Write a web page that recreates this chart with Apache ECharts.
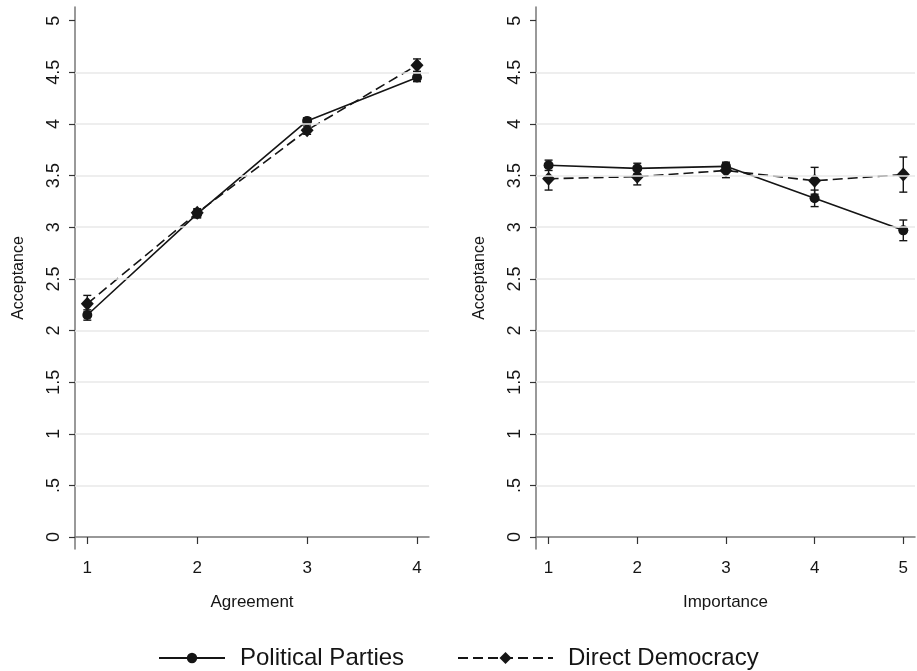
<!DOCTYPE html>
<html>
<head>
<meta charset="utf-8">
<script src="https://cdn.jsdelivr.net/npm/echarts@6/dist/echarts.min.js"></script>
<style>
html,body{margin:0;padding:0;background:#fff;}
#chart{width:917px;height:671px;}
</style>
</head>
<body>
<div id="chart"></div>
<script>
// ---- data ----
const agreeCats = [1, 2, 3, 4];
const agreePP = [2.15, 3.13, 4.03, 4.45];
const agreePPerr = [0.05, 0.04, 0.03, 0.04];
const agreeDD = [2.26, 3.14, 3.94, 4.57];
const agreeDDerr = [0.08, 0.04, 0.04, 0.06];

const impCats = [1, 2, 3, 4, 5];
const impPP = [3.60, 3.57, 3.59, 3.28, 2.97];
const impPPerr = [0.05, 0.05, 0.04, 0.08, 0.10];
const impDD = [3.47, 3.49, 3.55, 3.45, 3.51];
const impDDerr = [0.11, 0.08, 0.07, 0.13, 0.17];

const yTicks = [0, 0.5, 1, 1.5, 2, 2.5, 3, 3.5, 4, 4.5, 5];
const gridVals = [0.5, 1, 1.5, 2, 2.5, 3, 3.5, 4, 4.5];
const seriesNames = ['Political Parties', 'Direct Democracy'];
const xNames = ['Agreement', 'Importance'];
const yName = 'Acceptance';

// ---- style ----
const INK = '#151515';
const AXIS = '#777777';
const TICK = '#333333';
const FONT = 'Liberation Sans';

function pts(cats, vals) { return cats.map((c, i) => [c, vals[i]]); }
function errs(cats, vals, e) { return cats.map((c, i) => [c, vals[i] - e[i], vals[i] + e[i]]); }

function errRender(params, api) {
  const x = api.value(0);
  const lo = api.coord([x, api.value(1)]);
  const hi = api.coord([x, api.value(2)]);
  const w = 4;
  const style = { stroke: INK, lineWidth: 1.4, fill: null };
  return {
    type: 'group',
    children: [
      { type: 'line', shape: { x1: lo[0], y1: lo[1], x2: hi[0], y2: hi[1] }, style },
      { type: 'line', shape: { x1: lo[0] - w, y1: lo[1], x2: lo[0] + w, y2: lo[1] }, style },
      { type: 'line', shape: { x1: hi[0] - w, y1: hi[1], x2: hi[0] + w, y2: hi[1] }, style }
    ]
  };
}

function yLabel(v) {
  if (v === 0) return '0';
  let s = String(v);
  if (s.startsWith('0.')) s = s.slice(1);
  return s;
}

function makeX(idx, cats, min, max) {
  return {
    type: 'value', gridIndex: idx, min: min, max: max,
    name: xNames[idx], nameLocation: 'middle', nameGap: 45,
    nameTextStyle: { fontFamily: FONT, fontSize: 17, color: INK },
    axisLine: { show: true, lineStyle: { color: AXIS, width: 1.5 } },
    axisTick: { show: true, customValues: cats, length: 7, lineStyle: { color: TICK, width: 1.2 } },
    axisLabel: { customValues: cats, margin: 11, fontFamily: FONT, fontSize: 17, color: INK },
    splitLine: { show: false }
  };
}
function makeY(idx) {
  return {
    type: 'value', gridIndex: idx, min: -0.116, max: 5.133,
    name: yName, nameLocation: 'middle', nameGap: 48,
    nameTextStyle: { fontFamily: FONT, fontSize: 16, color: INK },
    axisLine: { show: true, lineStyle: { color: AXIS, width: 1.5 } },
    axisTick: { show: true, customValues: yTicks, length: 6, lineStyle: { color: TICK, width: 1.2 } },
    axisLabel: { customValues: yTicks, rotate: 90, margin: 12, fontFamily: FONT, fontSize: 18, color: INK, formatter: yLabel },
    splitLine: { show: false }
  };
}

function panelSeries(idx, cats, pp, ppErr, dd, ddErr) {
  return [
    {
      type: 'line', name: '_grid' + idx, xAxisIndex: idx, yAxisIndex: idx, data: [], z: 0,
      markLine: {
        silent: true, symbol: 'none', label: { show: false },
        lineStyle: { color: '#e8e8e8', type: 'solid', width: 1.6 },
        data: gridVals.map(v => ({ yAxis: v }))
      }
    },
    {
      type: 'custom', name: 'ppErr' + idx, xAxisIndex: idx, yAxisIndex: idx,
      renderItem: errRender, data: errs(cats, pp, ppErr), z: 3, silent: true
    },
    {
      type: 'custom', name: 'ddErr' + idx, xAxisIndex: idx, yAxisIndex: idx,
      renderItem: errRender, data: errs(cats, dd, ddErr), z: 3, silent: true
    },
    {
      type: 'line', name: seriesNames[0], xAxisIndex: idx, yAxisIndex: idx,
      data: pts(cats, pp), symbol: 'circle', symbolSize: 10,
      itemStyle: { color: INK }, lineStyle: { color: INK, width: 1.6, type: 'solid' }, z: 4
    },
    {
      type: 'line', name: seriesNames[1], xAxisIndex: idx, yAxisIndex: idx,
      data: pts(cats, dd), symbol: 'diamond', symbolSize: [13, 14],
      itemStyle: { color: INK }, lineStyle: { color: INK, width: 1.6, type: [10, 5] }, z: 4
    }
  ];
}

const chart = echarts.init(document.getElementById('chart'), null, { renderer: 'canvas' });
chart.setOption({
  backgroundColor: '#fff',
  animation: false,
  textStyle: { fontFamily: FONT },
  grid: [
    { left: 75, top: 7, width: 354, height: 542 },
    { left: 536, top: 7, width: 379, height: 542 }
  ],
  xAxis: [makeX(0, agreeCats, 0.888, 4.109), makeX(1, impCats, 0.858, 5.132)],
  yAxis: [makeY(0), makeY(1)],
  legend: [
    {
      data: [seriesNames[0]], left: 153, top: 641, itemWidth: 66, itemHeight: 13, selectedMode: false,
      textStyle: { fontFamily: FONT, fontSize: 24, color: INK, padding: [0, 0, 0, 10] }
    },
    {
      data: [seriesNames[1]], left: 452, top: 641, itemWidth: 95, itemHeight: 15, selectedMode: false,
      textStyle: { fontFamily: FONT, fontSize: 24, color: INK, padding: [0, 0, 0, 10] }
    }
  ],
  series: [
    ...panelSeries(0, agreeCats, agreePP, agreePPerr, agreeDD, agreeDDerr),
    ...panelSeries(1, impCats, impPP, impPPerr, impDD, impDDerr)
  ]
});
</script>
</body>
</html>
